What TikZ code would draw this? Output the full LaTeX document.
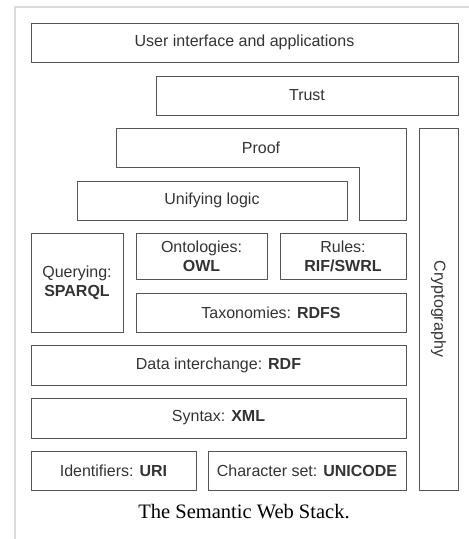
\documentclass[tikz,border=0pt]{standalone}
\usepackage{fontspec}
\setmainfont{Liberation Serif}
\setsansfont{Liberation Sans}
\definecolor{boxline}{HTML}{555555}
\definecolor{boxtext}{HTML}{333333}
\definecolor{framecol}{HTML}{DCDCDC}
\begin{document}
\begin{tikzpicture}[x=1pt,y=-1pt,
  layer/.style={draw=boxline, line width=1pt, inner sep=0pt, text=boxtext,
    font=\sffamily\fontsize{16}{18.8}\selectfont, align=center},
  size/.style 2 args={minimum width=#1pt, minimum height=#2pt},
  label/.style={text=boxtext, font=\sffamily\fontsize{16}{18.8}\selectfont, align=center, inner sep=0pt}]
  \useasboundingbox (0,0) rectangle (469,539);
  % outer frame
  \draw[framecol, line width=1.5pt] (15,539) -- (15,7) -- (469,7);

  % stack layers
  \node[layer, size={427}{39}] (ui) at (244.5,42.5) {User interface and applications};
  \node[layer, size={302}{39}] (trust) at (307,95.5) {Trust};
  \draw[boxline, line width=1pt] (116,128) -- (406,128) -- (406,220) -- (359,220)
    -- (359,167) -- (116,167) -- cycle;
  \node[label] (proof) at (261,147.5) {Proof};
  \node[layer, size={39}{362}] (crypto) at (438.5,309) {};
  \node[label, rotate=-90] (cryptotext) at (crypto.center) {Cryptography};
  \node[layer, size={270}{39}] (logic) at (212,200.5) {Unifying logic};
  \node[layer, size={92}{99}] (query) at (77,282.5) {Querying:\\\textbf{SPARQL}};
  \node[layer, size={131}{46}] (onto) at (201.5,256) {Ontologies:\\\textbf{OWL}};
  \node[layer, size={126}{46}] (rules) at (343,256) {Rules:\\\textbf{RIF/SWRL}};
  \node[layer, size={270}{39}] (tax) at (271,312.5) {Taxonomies: \textbf{RDFS}};
  \node[layer, size={375}{40}] (rdf) at (218.5,365) {Data interchange: \textbf{RDF}};
  \node[layer, size={375}{40}] (xml) at (218.5,418) {Syntax: \textbf{XML}};
  \node[layer, size={165}{39}] (uri) at (113.5,470.5) {Identifiers: \textbf{URI}};
  \node[layer, size={198}{39}] (uni) at (307,470.5) {Character set: \textbf{UNICODE}};

  % caption
  \node[font=\fontsize{20.5}{24}\selectfont, inner sep=0pt] (caption) at (244,512) {The Semantic Web Stack.};
\end{tikzpicture}
\end{document}
